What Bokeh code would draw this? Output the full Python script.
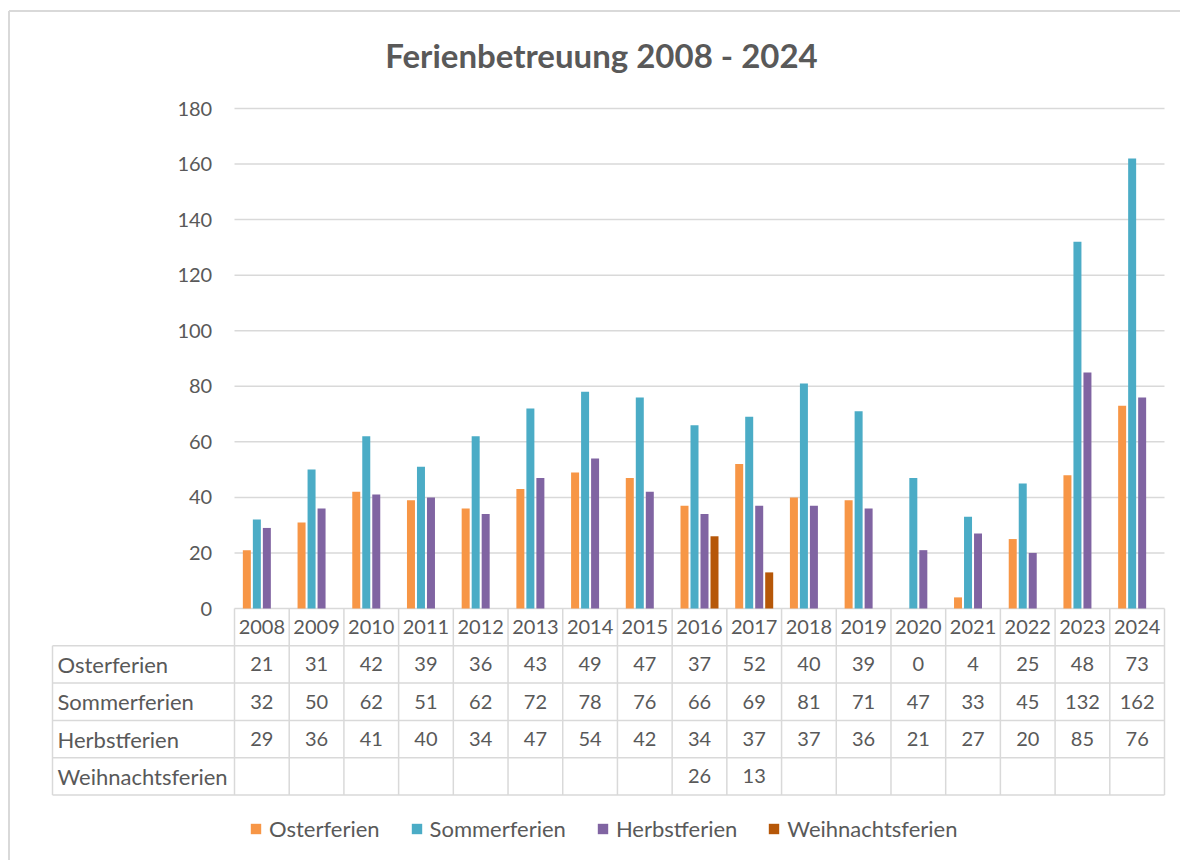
from bokeh.plotting import figure
from bokeh.models import ColumnDataSource, Range1d, Legend, LegendItem
from bokeh.transform import dodge
from bokeh.core.properties import value
from bokeh.embed import file_html
from bokeh.resources import INLINE

# ---------------- data ----------------
years = ["2008", "2009", "2010", "2011", "2012", "2013", "2014", "2015", "2016",
         "2017", "2018", "2019", "2020", "2021", "2022", "2023", "2024"]
series_names = ["Osterferien", "Sommerferien", "Herbstferien", "Weihnachtsferien"]
osterferien = [21, 31, 42, 39, 36, 43, 49, 47, 37, 52, 40, 39, 0, 4, 25, 48, 73]
sommerferien = [32, 50, 62, 51, 62, 72, 78, 76, 66, 69, 81, 71, 47, 33, 45, 132, 162]
herbstferien = [29, 36, 41, 40, 34, 47, 54, 42, 34, 37, 37, 36, 21, 27, 20, 85, 76]
weihnachtsferien = [None, None, None, None, None, None, None, None, 26, 13,
                    None, None, None, None, None, None, None]
y_ticks = [0, 20, 40, 60, 80, 100, 120, 140, 160, 180]
title_text = "Ferienbetreuung 2008 - 2024"

# ---------------- style / layout constants ----------------
FONT = "Lato"
TXT = "#595959"
GRID = "#D9D9D9"
colors = ["#F79646", "#4BACC6", "#8064A2", "#B65708"]

n = len(years)
FIG_L, FIG_T = 0, 0          # page position of the figure
W, H = 1180, 860
X0PX = 234.0                  # pixel of x = 0 (first category edge)
Y0PX = 608.0                  # pixel of value 0
COL_PX = 930.0 / n            # pixel width of one category
PPU = 500.0 / 180.0           # pixels per value unit
ROW_PX = 37.3                 # data-table row height

def dx(px):   # page pixel -> x data
    return (px - X0PX) / COL_PX

def dy(px):   # page pixel -> y data
    return (Y0PX - px) / PPU

series = [osterferien, sommerferien, herbstferien, weihnachtsferien]
centers = [i + 0.5 for i in range(n)]
data = {"x": centers}
for name, vals in zip(series_names, series):
    data[name] = [float("nan") if v is None else v for v in vals]
src = ColumnDataSource(data)

p = figure(width=W, height=H, output_backend="svg", toolbar_location=None,
           x_axis_type=None, y_axis_type=None,
           x_range=Range1d(dx(FIG_L), dx(FIG_L + W)),
           y_range=Range1d(dy(FIG_T + H), dy(FIG_T)),
           min_border=0, min_border_left=0, min_border_right=0,
           min_border_top=0, min_border_bottom=0)
p.outline_line_color = None
p.grid.visible = False
p.background_fill_color = "white"

# chart container border (top and left)
p.segment(x0=[dx(8.5), dx(8.5)], y0=[dy(10.5), dy(10.5)],
          x1=[dx(8.5), dx(FIG_L + W)], y1=[dy(FIG_T + H), dy(10.5)],
          line_color=GRID, line_width=2)

# gridlines and tick labels
p.segment(x0=[0] * len(y_ticks), y0=y_ticks, x1=[n] * len(y_ticks), y1=y_ticks,
          line_color=GRID, line_width=1.5)
p.text(x=[dx(211.7)] * len(y_ticks), y=y_ticks, text=[str(v) for v in y_ticks],
       text_font=value(FONT), text_font_size="20px", text_color=TXT,
       text_align="right", text_baseline="middle")

# bars
bw = 8.0 / COL_PX
step = 10.0 / COL_PX
offsets = [-1.5 * step, -0.5 * step, 0.5 * step, 1.5 * step]
bar_renderers = []
for name, c, off in zip(series_names, colors, offsets):
    r = p.vbar(x=dodge("x", off), top=name, width=bw, bottom=0, source=src,
               fill_color=c, line_color=None)
    bar_renderers.append(r)

# title
p.text(x=[dx(601)], y=[dy(54)], text=[title_text], text_font=value(FONT),
       text_font_size="33px", text_font_style="bold", text_color=TXT,
       text_align="center", text_baseline="middle")

# data table
nrows = len(series_names)
lab_left = dx(52)
row_y = lambda k: -(k * ROW_PX) / PPU
hy = [row_y(k) for k in range(1, nrows + 2)]
p.segment(x0=[lab_left] * len(hy), y0=hy, x1=[n] * len(hy), y1=hy,
          line_color=GRID, line_width=1.5)
vx = [lab_left] + list(range(n + 1))
vy0 = [row_y(1)] + [row_y(0)] * (n + 1)
vy1 = [row_y(nrows + 1)] * (n + 2)
p.segment(x0=vx, y0=vy0, x1=vx, y1=vy1, line_color=GRID, line_width=1.5)

p.text(x=centers, y=[row_y(0.5)] * n, text=years, text_font=value(FONT),
       text_font_size="20px", text_color=TXT, text_align="center", text_baseline="middle")
for k, (name, vals) in enumerate(zip(series_names, series)):
    yk = row_y(k + 1.5)
    p.text(x=[lab_left + 5.0 / COL_PX], y=[yk], text=[name], text_font=value(FONT),
           text_font_size="22px", text_color=TXT, text_align="left", text_baseline="middle")
    p.text(x=centers, y=[yk] * n, text=["" if v is None else str(v) for v in vals],
           text_font=value(FONT), text_font_size="20px", text_color=TXT,
           text_align="center", text_baseline="middle")

# legend
items = [LegendItem(label=name, renderers=[r]) for name, r in zip(series_names, bar_renderers)]
leg = Legend(items=items, location=(249, 18), orientation="horizontal",
             glyph_width=13, glyph_height=13, label_standoff=7, spacing=30,
             padding=0, margin=0, border_line_color=None, background_fill_alpha=0,
             label_text_font=FONT, label_text_font_size="22px", label_text_color=TXT)
p.add_layout(leg)

with open("out.html", "w") as f:
    f.write(file_html(p, INLINE))
